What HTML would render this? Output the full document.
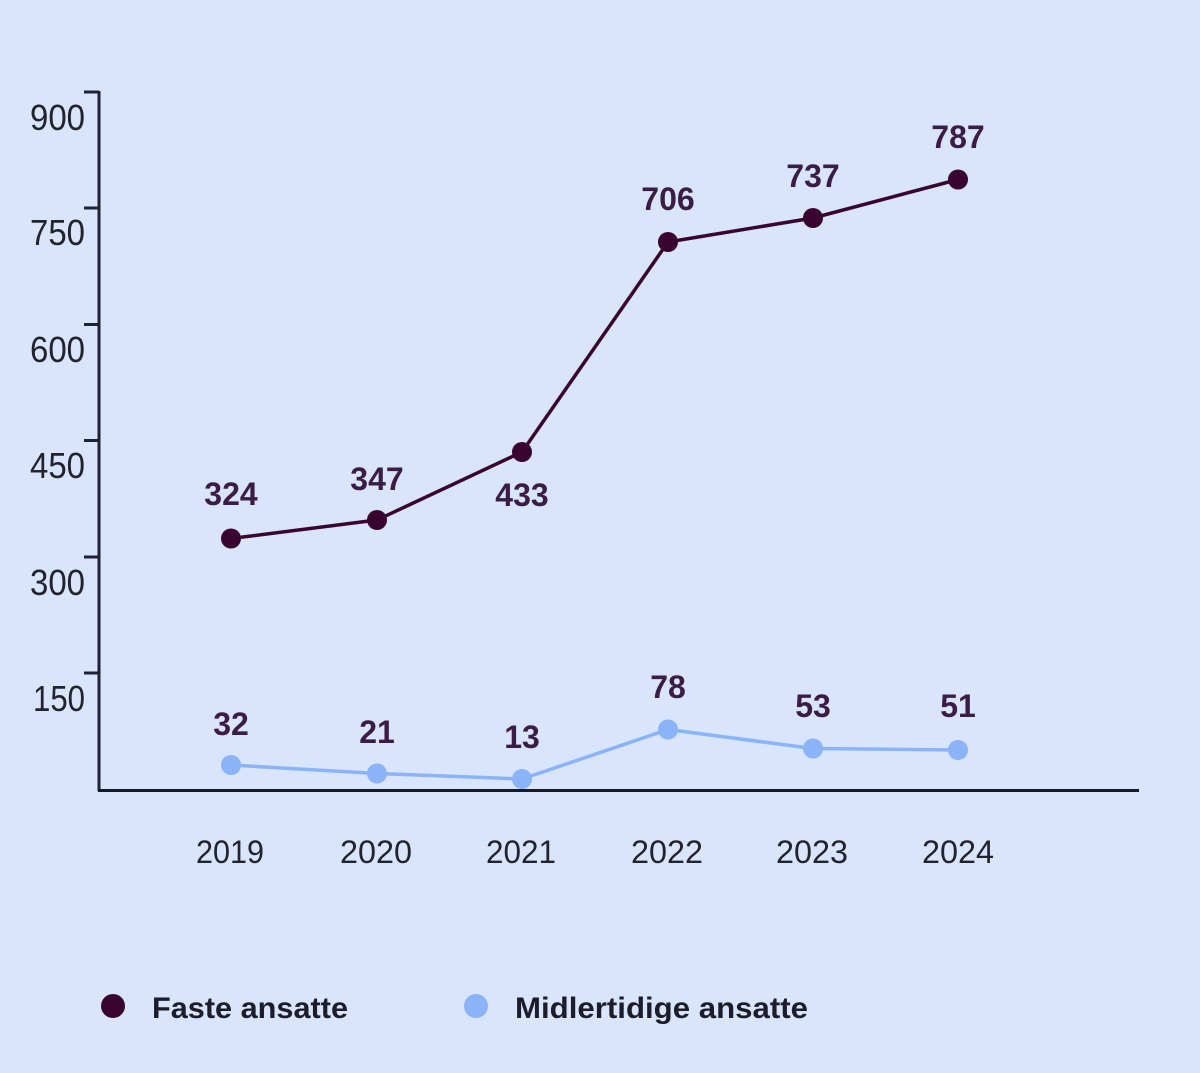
<!DOCTYPE html>
<html>
<head>
<meta charset="utf-8">
<style>
  html, body { margin: 0; padding: 0; background: #d9e4fd; }
  svg { display: block; }
  text { font-family: "Liberation Sans", "DejaVu Sans", sans-serif; }
</style>
</head>
<body>
<svg width="1200" height="1073" viewBox="0 0 1200 1073" xmlns="http://www.w3.org/2000/svg">
  <rect x="0" y="0" width="1200" height="1073" fill="#d9e4fd"/>

  <!-- Axes -->
  <line x1="99" y1="91" x2="99" y2="791" stroke="#1e2233" stroke-width="3"/>
  <line x1="98" y1="790.5" x2="1139" y2="790.5" stroke="#141a2a" stroke-width="3"/>

  <!-- Y ticks -->
  <g stroke="#1e2233" stroke-width="3">
    <line x1="84" y1="92" x2="99" y2="92"/>
    <line x1="84" y1="208" x2="99" y2="208"/>
    <line x1="84" y1="324.5" x2="99" y2="324.5"/>
    <line x1="84" y1="440.5" x2="99" y2="440.5"/>
    <line x1="84" y1="557" x2="99" y2="557"/>
    <line x1="84" y1="673" x2="99" y2="673"/>
  </g>

  <!-- Y labels -->
  <g fill="#23232e" font-size="36" text-anchor="end">
    <text x="85" y="130" textLength="55" lengthAdjust="spacingAndGlyphs">900</text>
    <text x="85" y="245" textLength="55" lengthAdjust="spacingAndGlyphs">750</text>
    <text x="85" y="362" textLength="55" lengthAdjust="spacingAndGlyphs">600</text>
    <text x="85" y="478" textLength="55" lengthAdjust="spacingAndGlyphs">450</text>
    <text x="85" y="595" textLength="55" lengthAdjust="spacingAndGlyphs">300</text>
    <text x="85" y="711" textLength="52" lengthAdjust="spacingAndGlyphs">150</text>
  </g>

  <!-- Midlertidige series -->
  <polyline points="231,765 377,773.5 522,779 668,729.5 813,748.5 958,750"
            fill="none" stroke="#8ab4f7" stroke-width="3.5" stroke-linejoin="round"/>
  <g fill="#8ab4f7">
    <circle cx="231" cy="765" r="10"/>
    <circle cx="377" cy="773.5" r="10"/>
    <circle cx="522" cy="779" r="10"/>
    <circle cx="668" cy="729.5" r="10"/>
    <circle cx="813" cy="748.5" r="10"/>
    <circle cx="958" cy="750" r="10"/>
  </g>

  <!-- Faste series -->
  <polyline points="231,538.5 377,520 522,452 668,242 813,218 958,179.5"
            fill="none" stroke="#3a0430" stroke-width="3.5" stroke-linejoin="round"/>
  <g fill="#3a0430">
    <circle cx="231" cy="538.5" r="10"/>
    <circle cx="377" cy="520" r="10"/>
    <circle cx="522" cy="452" r="10"/>
    <circle cx="668" cy="242" r="10"/>
    <circle cx="813" cy="218" r="10"/>
    <circle cx="958" cy="179.5" r="10"/>
  </g>

  <!-- Data labels -->
  <g fill="#3a1c44" font-size="32" font-weight="bold" text-anchor="middle">
    <text x="231" y="505">324</text>
    <text x="377" y="490">347</text>
    <text x="522" y="506">433</text>
    <text x="668" y="210">706</text>
    <text x="813" y="187">737</text>
    <text x="958" y="148">787</text>

    <text x="231" y="735">32</text>
    <text x="377" y="743">21</text>
    <text x="522" y="748">13</text>
    <text x="668" y="698">78</text>
    <text x="813" y="717">53</text>
    <text x="958" y="717">51</text>
  </g>

  <!-- X labels -->
  <g fill="#23232e" font-size="32" text-anchor="middle">
    <text x="230" y="863" textLength="68" lengthAdjust="spacingAndGlyphs">2019</text>
    <text x="376" y="863" textLength="72" lengthAdjust="spacingAndGlyphs">2020</text>
    <text x="521" y="863" textLength="70" lengthAdjust="spacingAndGlyphs">2021</text>
    <text x="667" y="863" textLength="72" lengthAdjust="spacingAndGlyphs">2022</text>
    <text x="812" y="863" textLength="72" lengthAdjust="spacingAndGlyphs">2023</text>
    <text x="958" y="863" textLength="72" lengthAdjust="spacingAndGlyphs">2024</text>
  </g>

  <!-- Legend -->
  <circle cx="113" cy="1006" r="12" fill="#3a0430"/>
  <text x="152" y="1018" fill="#1c1c2a" font-size="30" font-weight="bold" textLength="196" lengthAdjust="spacingAndGlyphs">Faste ansatte</text>
  <circle cx="476" cy="1006" r="12" fill="#8ab4f7"/>
  <text x="515" y="1018" fill="#1c1c2a" font-size="30" font-weight="bold" textLength="293" lengthAdjust="spacingAndGlyphs">Midlertidige ansatte</text>
</svg>
</body>
</html>
